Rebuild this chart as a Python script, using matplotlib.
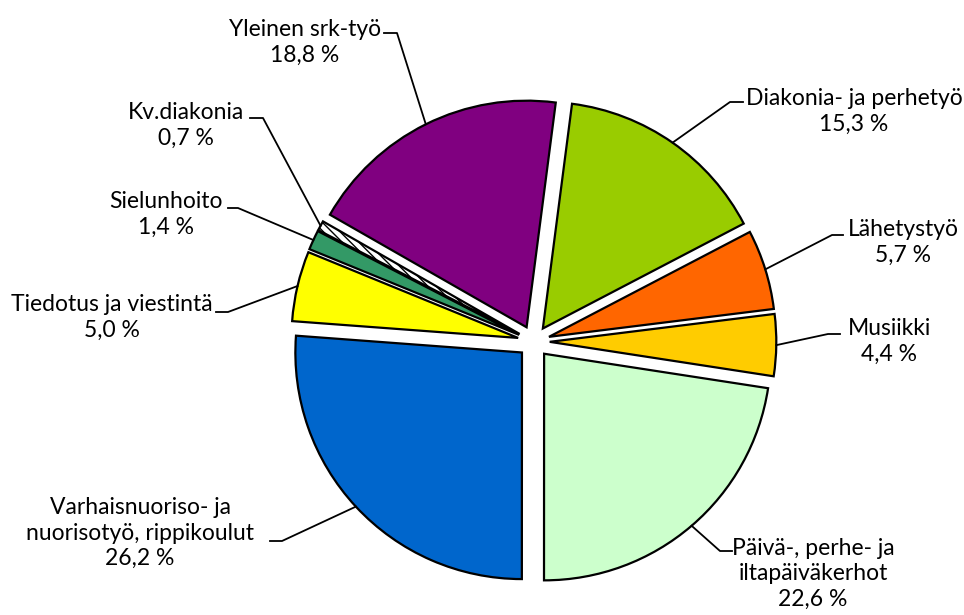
import matplotlib
matplotlib.use("Agg")
import matplotlib.pyplot as plt
import numpy as np

plt.rcParams['font.family'] = ['Lato', 'DejaVu Sans']

# data (clockwise from the top)
names = ["Diakonia- ja perhetyö", "Lähetystyö", "Musiikki",
         "Päivä-, perhe- ja\niltapäiväkerhot", "Varhaisnuoriso- ja\nnuorisotyö, rippikoulut",
         "Tiedotus ja viestintä", "Sielunhoito", "Kv.diakonia", "Yleinen srk-työ"]
values = [15.3, 5.7, 4.4, 22.6, 26.2, 5.0, 1.4, 0.7, 18.8]
colors = ["#99CC00", "#FF6600", "#FFCC00", "#CCFFCC", "#0066CC",
          "#FFFF00", "#339966", "#FFFFFF", "#800080"]

W, H = 964, 615
# label block centre, leader elbow, leader end (pixel coords, y down)
label_pos = [(854, 111), (903, 242), (889, 341), (813, 574), (140, 533),
             (112, 317), (166, 214), (186, 125), (305, 42)]
elbows = [(730, 102), (832, 235), (828, 334), (720, 551), (282, 541),
          (228, 312), (238, 208), (263, 118), (397, 33)]
ends = [(743, 102), (843, 235), (840, 334), (732, 551), (270, 541),
        (216, 312), (228, 208), (250, 118), (384, 33)]

fig = plt.figure(figsize=(9.64, 6.15), dpi=100)
ax = fig.add_axes([0, 0, 1, 1])

R = 226.6
wedges, _ = ax.pie(values, colors=colors, startangle=82.6, counterclock=False,
                   explode=[16] * len(values), radius=R, center=(533.7, H - 341.6),
                   wedgeprops=dict(edgecolor="black", linewidth=1.6))
wedges[7].set_hatch("\\\\\\\\")

ax.set_aspect("auto")
ax.set_xlim(0, W)
ax.set_ylim(0, H)
ax.axis("off")

for i, w in enumerate(wedges):
    mid = np.deg2rad((w.theta1 + w.theta2) / 2)
    ax0 = w.center[0] + w.r * np.cos(mid)
    ay0 = w.center[1] + w.r * np.sin(mid)
    ex, ey = elbows[i]
    tx, ty = ends[i]
    ax.plot([ax0, ex, tx], [ay0, H - ey, H - ty], color="black", linewidth=1.3)
    txt = names[i] + "\n" + ("%.1f %%" % values[i]).replace(".", ",")
    lx, ly = label_pos[i]
    ax.text(lx, H - ly, txt, ha="center", va="center", multialignment="center",
            fontsize=16.5, color="black", linespacing=1.28)

fig.savefig("out.png", dpi=100)
